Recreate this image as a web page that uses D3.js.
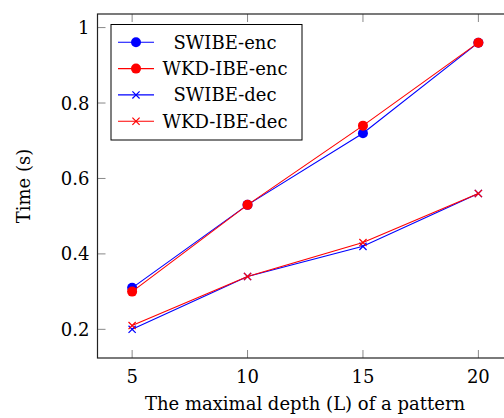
<!DOCTYPE html>
<html>
<head>
<meta charset="utf-8">
<script src="https://cdn.jsdelivr.net/npm/d3@7"></script>
<style>
  body { margin: 0; background: #fff; }
  text { font-family: "DejaVu Serif", "Liberation Serif", serif; fill: #000; }
</style>
</head>
<body>
<div id="chart"></div>
<script>
var depths = [5, 10, 15, 20];
var swibeEnc = [0.31, 0.53, 0.72, 0.96];
var wkdEnc = [0.30, 0.53, 0.74, 0.96];
var swibeDec = [0.20, 0.34, 0.42, 0.56];
var wkdDec = [0.21, 0.34, 0.43, 0.56];
var yTicks = [0.2, 0.4, 0.6, 0.8, 1];

var series = [
  { name: "SWIBE-enc", values: swibeEnc, color: "#0000ff", marker: "dot" },
  { name: "WKD-IBE-enc", values: wkdEnc, color: "#ff0000", marker: "dot" },
  { name: "SWIBE-dec", values: swibeDec, color: "#0000ff", marker: "cross" },
  { name: "WKD-IBE-dec", values: wkdDec, color: "#ff0000", marker: "cross" }
];

var width = 504, height = 418;
var plotL = 97.5, plotR = 513, plotT = 14, plotB = 358;
var fs = "18px";

var svg = d3.select("#chart").append("svg")
  .attr("width", width)
  .attr("height", height);

var x = d3.scaleLinear().domain([3.5, 21.5]).range([plotL, plotR]);
var y = d3.scaleLinear().domain([0.124, 1.036]).range([plotB, plotT]);

// ticks inside, mirrored on the opposite side
var tickLen = 8;
var g = svg.append("g");
depths.forEach(function(d){
  g.append("line").attr("x1", x(d)).attr("x2", x(d))
    .attr("y1", plotB).attr("y2", plotB - tickLen)
    .attr("stroke", "#888").attr("stroke-width", 1);
  g.append("line").attr("x1", x(d)).attr("x2", x(d))
    .attr("y1", plotT).attr("y2", plotT + tickLen)
    .attr("stroke", "#888").attr("stroke-width", 1);
});
yTicks.forEach(function(t){
  g.append("line").attr("x1", plotL).attr("x2", plotL + tickLen)
    .attr("y1", y(t)).attr("y2", y(t))
    .attr("stroke", "#888").attr("stroke-width", 1);
  g.append("line").attr("x1", plotR).attr("x2", plotR - tickLen)
    .attr("y1", y(t)).attr("y2", y(t))
    .attr("stroke", "#888").attr("stroke-width", 1);
});

svg.append("rect")
  .attr("x", plotL).attr("y", plotT)
  .attr("width", plotR - plotL).attr("height", plotB - plotT)
  .attr("fill", "none").attr("stroke", "#222").attr("stroke-width", 1.2);

// tick labels
svg.selectAll(".xl").data(depths).enter().append("text")
  .attr("x", function(d){ return x(d); })
  .attr("y", plotB + 25)
  .attr("text-anchor", "middle")
  .style("font-size", fs)
  .text(function(d){ return d; });

svg.selectAll(".yl").data(yTicks).enter().append("text")
  .attr("x", plotL - 8)
  .attr("y", function(d){ return y(d) + 6.5; })
  .attr("text-anchor", "end")
  .style("font-size", fs)
  .text(function(d){ return d === 1 ? "1" : d.toFixed(1); });

// axis titles
svg.append("text")
  .attr("x", 305).attr("y", 410)
  .attr("text-anchor", "middle")
  .style("font-size", fs)
  .text("The maximal depth (L) of a pattern");

svg.append("text")
  .attr("transform", "translate(30," + ((plotT + plotB) / 2) + ") rotate(-90)")
  .attr("text-anchor", "middle")
  .style("font-size", fs)
  .text("Time (s)");

// lines and markers
var line = d3.line()
  .x(function(d, i){ return x(depths[i]); })
  .y(function(d){ return y(d); });

function drawMarker(sel, type, color, cx, cy) {
  if (type === "dot") {
    sel.append("circle").attr("cx", cx).attr("cy", cy).attr("r", 5)
      .attr("fill", color);
  } else {
    var s = 3.6;
    sel.append("path")
      .attr("d", "M" + (cx - s) + "," + (cy - s) + "L" + (cx + s) + "," + (cy + s) +
                 "M" + (cx - s) + "," + (cy + s) + "L" + (cx + s) + "," + (cy - s))
      .attr("stroke", color).attr("stroke-width", 1.2);
  }
}

series.forEach(function(s){
  svg.append("path")
    .attr("d", line(s.values))
    .attr("fill", "none")
    .attr("stroke", s.color)
    .attr("stroke-width", 1.1);
  s.values.forEach(function(v, i){
    drawMarker(svg, s.marker, s.color, x(depths[i]), y(v));
  });
});

// legend
var lg = svg.append("g");
lg.append("rect")
  .attr("x", 111).attr("y", 24.5)
  .attr("width", 191).attr("height", 115.5)
  .attr("fill", "#fff").attr("stroke", "#000").attr("stroke-width", 1);
series.forEach(function(s, i){
  var ly = 42.3 + i * 26.3;
  lg.append("line").attr("x1", 118).attr("x2", 154)
    .attr("y1", ly).attr("y2", ly)
    .attr("stroke", s.color).attr("stroke-width", 1.1);
  drawMarker(lg, s.marker, s.color, 136, ly);
  lg.append("text")
    .attr("x", 225).attr("y", ly + 6.5)
    .attr("text-anchor", "middle")
    .style("font-size", fs)
    .text(s.name);
});
</script>
</body>
</html>
